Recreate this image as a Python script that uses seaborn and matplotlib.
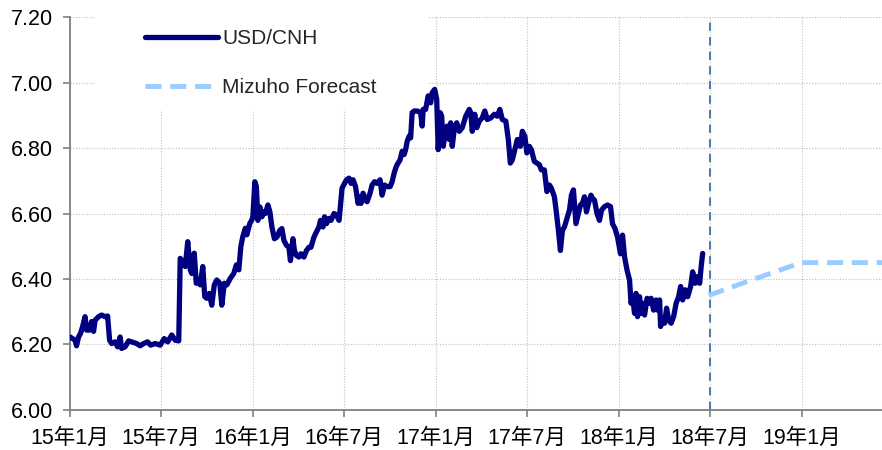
import pandas as pd
import matplotlib
matplotlib.use("Agg")
import matplotlib.pyplot as plt
import seaborn as sns
from matplotlib.patches import Rectangle

# ==========================================
# Data
# ==========================================

usdcnh_2015 = [
    ("2015-01-01", 6.223), ("2015-01-11", 6.213), ("2015-01-14", 6.196), ("2015-01-18", 6.223),
    ("2015-01-22", 6.234), ("2015-01-26", 6.254), ("2015-01-31", 6.285), ("2015-02-03", 6.244),
    ("2015-02-09", 6.244), ("2015-02-13", 6.270), ("2015-02-17", 6.240), ("2015-02-20", 6.274),
    ("2015-02-27", 6.285), ("2015-03-05", 6.290), ("2015-03-12", 6.285), ("2015-03-17", 6.287),
    ("2015-03-21", 6.213), ("2015-03-25", 6.203), ("2015-04-01", 6.208), ("2015-04-06", 6.193),
    ("2015-04-11", 6.223), ("2015-04-14", 6.188), ("2015-04-21", 6.193), ("2015-04-28", 6.211),
    ("2015-05-04", 6.208), ("2015-05-14", 6.203), ("2015-05-21", 6.196), ("2015-05-28", 6.203),
    ("2015-06-05", 6.208), ("2015-06-11", 6.198), ("2015-06-20", 6.203), ("2015-06-30", 6.198),
    ("2015-07-08", 6.218), ("2015-07-15", 6.208), ("2015-07-23", 6.229), ("2015-07-30", 6.213),
    ("2015-08-06", 6.211), ("2015-08-09", 6.463), ("2015-08-14", 6.453), ("2015-08-19", 6.438),
    ("2015-08-24", 6.514), ("2015-08-29", 6.428), ("2015-09-01", 6.417), ("2015-09-06", 6.479),
    ("2015-09-10", 6.387), ("2015-09-15", 6.397), ("2015-09-18", 6.382), ("2015-09-23", 6.438),
    ("2015-09-27", 6.346), ("2015-10-01", 6.341), ("2015-10-06", 6.356), ("2015-10-11", 6.320),
    ("2015-10-16", 6.382), ("2015-10-21", 6.397), ("2015-10-27", 6.387), ("2015-10-31", 6.320),
    ("2015-11-05", 6.387), ("2015-11-10", 6.382), ("2015-11-17", 6.402), ("2015-11-24", 6.417),
    ("2015-11-29", 6.443), ("2015-12-04", 6.428), ("2015-12-08", 6.499), ("2015-12-12", 6.530),
    ("2015-12-17", 6.555), ("2015-12-20", 6.535), ("2015-12-26", 6.570), ("2015-12-30", 6.580),
]

usdcnh_2016 = [
    ("2016-01-01", 6.590), ("2016-01-05", 6.697), ("2016-01-08", 6.682), ("2016-01-11", 6.579),
    ("2016-01-15", 6.620), ("2016-01-19", 6.590), ("2016-01-23", 6.605), ("2016-01-26", 6.600),
    ("2016-01-31", 6.626), ("2016-02-04", 6.605), ("2016-02-08", 6.559), ("2016-02-13", 6.523),
    ("2016-02-18", 6.528), ("2016-02-24", 6.549), ("2016-02-28", 6.554), ("2016-03-03", 6.518),
    ("2016-03-08", 6.503), ("2016-03-13", 6.497), ("2016-03-16", 6.456), ("2016-03-21", 6.523),
    ("2016-03-24", 6.487), ("2016-03-28", 6.472), ("2016-04-02", 6.467), ("2016-04-06", 6.477),
    ("2016-04-12", 6.467), ("2016-04-17", 6.487), ("2016-04-22", 6.497), ("2016-04-26", 6.497),
    ("2016-05-02", 6.528), ("2016-05-07", 6.544), ("2016-05-12", 6.559), ("2016-05-15", 6.579),
    ("2016-05-20", 6.559), ("2016-05-23", 6.590), ("2016-05-27", 6.569), ("2016-06-01", 6.585),
    ("2016-06-05", 6.579), ("2016-06-11", 6.600), ("2016-06-16", 6.595), ("2016-06-21", 6.579),
    ("2016-06-24", 6.626), ("2016-06-27", 6.677), ("2016-07-02", 6.692), ("2016-07-06", 6.703),
    ("2016-07-11", 6.708), ("2016-07-15", 6.692), ("2016-07-19", 6.703), ("2016-07-24", 6.682),
    ("2016-07-29", 6.631), ("2016-08-02", 6.651), ("2016-08-04", 6.631), ("2016-08-08", 6.662),
    ("2016-08-13", 6.641), ("2016-08-16", 6.636), ("2016-08-22", 6.662), ("2016-08-26", 6.687),
    ("2016-08-31", 6.697), ("2016-09-05", 6.692), ("2016-09-11", 6.703), ("2016-09-15", 6.656),
    ("2016-09-20", 6.687), ("2016-09-25", 6.682), ("2016-10-01", 6.682), ("2016-10-05", 6.697),
    ("2016-10-09", 6.723), ("2016-10-12", 6.738), ("2016-10-15", 6.749), ("2016-10-21", 6.764),
    ("2016-10-25", 6.790), ("2016-10-29", 6.780), ("2016-11-01", 6.795), ("2016-11-04", 6.820),
    ("2016-11-08", 6.836), ("2016-11-11", 6.831), ("2016-11-14", 6.908), ("2016-11-18", 6.913),
    ("2016-11-24", 6.913), ("2016-12-01", 6.908), ("2016-12-04", 6.867), ("2016-12-06", 6.918),
    ("2016-12-11", 6.918), ("2016-12-16", 6.959), ("2016-12-21", 6.938), ("2016-12-24", 6.969),
    ("2016-12-29", 6.979),
]

usdcnh_2017 = [
    ("2017-01-02", 6.949), ("2017-01-05", 6.795), ("2017-01-09", 6.908), ("2017-01-12", 6.897),
    ("2017-01-15", 6.805), ("2017-01-20", 6.856), ("2017-01-23", 6.867), ("2017-01-27", 6.826),
    ("2017-01-30", 6.877), ("2017-02-02", 6.805), ("2017-02-06", 6.856), ("2017-02-11", 6.877),
    ("2017-02-16", 6.851), ("2017-02-22", 6.862), ("2017-03-01", 6.897), ("2017-03-08", 6.918),
    ("2017-03-11", 6.908), ("2017-03-14", 6.851), ("2017-03-19", 6.903), ("2017-03-23", 6.862),
    ("2017-03-28", 6.882), ("2017-04-03", 6.892), ("2017-04-08", 6.913), ("2017-04-13", 6.887),
    ("2017-04-20", 6.892), ("2017-04-27", 6.903), ("2017-05-03", 6.897), ("2017-05-08", 6.918),
    ("2017-05-13", 6.887), ("2017-05-20", 6.882), ("2017-05-25", 6.826), ("2017-05-29", 6.754),
    ("2017-06-02", 6.764), ("2017-06-07", 6.795), ("2017-06-12", 6.826), ("2017-06-18", 6.805),
    ("2017-06-22", 6.851), ("2017-06-27", 6.836), ("2017-07-01", 6.785), ("2017-07-06", 6.805),
    ("2017-07-10", 6.795), ("2017-07-16", 6.759), ("2017-07-21", 6.754), ("2017-07-26", 6.749),
    ("2017-07-30", 6.733), ("2017-08-05", 6.733), ("2017-08-10", 6.667), ("2017-08-15", 6.687),
    ("2017-08-19", 6.677), ("2017-08-25", 6.651), ("2017-08-28", 6.615), ("2017-09-02", 6.549),
    ("2017-09-06", 6.487), ("2017-09-10", 6.549), ("2017-09-14", 6.559), ("2017-09-19", 6.585),
    ("2017-09-24", 6.610), ("2017-09-28", 6.656), ("2017-10-02", 6.672), ("2017-10-07", 6.569),
    ("2017-10-12", 6.600), ("2017-10-16", 6.626), ("2017-10-20", 6.631), ("2017-10-24", 6.651),
    ("2017-10-28", 6.605), ("2017-11-01", 6.631), ("2017-11-06", 6.656), ("2017-11-09", 6.646),
    ("2017-11-13", 6.641), ("2017-11-18", 6.600), ("2017-11-23", 6.579), ("2017-11-27", 6.610),
    ("2017-12-03", 6.621), ("2017-12-09", 6.626), ("2017-12-15", 6.621), ("2017-12-19", 6.569),
    ("2017-12-24", 6.554), ("2017-12-29", 6.528),
]

usdcnh_2018 = [
    ("2018-01-04", 6.477), ("2018-01-08", 6.534), ("2018-01-12", 6.468), ("2018-01-17", 6.427),
    ("2018-01-22", 6.397), ("2018-01-25", 6.326), ("2018-01-28", 6.346), ("2018-02-01", 6.295),
    ("2018-02-04", 6.356), ("2018-02-07", 6.285), ("2018-02-11", 6.346), ("2018-02-14", 6.295),
    ("2018-02-17", 6.326), ("2018-02-21", 6.290), ("2018-02-26", 6.341), ("2018-03-03", 6.326),
    ("2018-03-06", 6.341), ("2018-03-11", 6.305), ("2018-03-16", 6.336), ("2018-03-19", 6.305),
    ("2018-03-23", 6.336), ("2018-03-25", 6.255), ("2018-03-28", 6.275), ("2018-04-02", 6.265),
    ("2018-04-06", 6.311), ("2018-04-10", 6.275), ("2018-04-15", 6.265), ("2018-04-20", 6.285),
    ("2018-04-25", 6.326), ("2018-04-30", 6.346), ("2018-05-04", 6.377), ("2018-05-08", 6.336),
    ("2018-05-13", 6.367), ("2018-05-18", 6.346), ("2018-05-24", 6.377), ("2018-05-28", 6.422),
    ("2018-06-02", 6.387), ("2018-06-06", 6.407), ("2018-06-11", 6.387), ("2018-06-14", 6.438),
    ("2018-06-17", 6.478),
]

forecast_dates = ["2018-06-29", "2018-09-28", "2018-12-31", "2019-03-29", "2019-06-28"]
forecast_values = [6.35, 6.40, 6.45, 6.45, 6.45]

tick_dates = ["2015-01-01", "2015-07-01", "2016-01-01", "2016-07-01", "2017-01-01",
              "2017-07-01", "2018-01-01", "2018-07-01", "2019-01-01"]
tick_labels = ["15年1月", "15年7月", "16年1月", "16年7月", "17年1月",
               "17年7月", "18年1月", "18年7月", "19年1月"]

y_ticks = [6.00, 6.20, 6.40, 6.60, 6.80, 7.00, 7.20]

forecast_start = "2018-07-01"

# ==========================================
# Build data frames
# ==========================================

spot = pd.DataFrame(usdcnh_2015 + usdcnh_2016 + usdcnh_2017 + usdcnh_2018,
                    columns=["date", "value"])
spot["date"] = pd.to_datetime(spot["date"])

forecast = pd.DataFrame({"date": pd.to_datetime(forecast_dates), "value": forecast_values})

# ==========================================
# Plot
# ==========================================

sns.set_theme(style="whitegrid")
plt.rcParams["font.family"] = ["Liberation Sans", "Noto Sans CJK JP", "DejaVu Sans"]

fig = plt.figure(figsize=(8.82, 4.5), dpi=100)
ax = fig.add_axes([0.0794, 0.0889, 0.9206, 0.8733])

sns.lineplot(data=spot, x="date", y="value", ax=ax, color="#000080",
             linewidth=3.8, label="USD/CNH", zorder=3)
sns.lineplot(data=forecast, x="date", y="value", ax=ax, color="#99CCFF",
             linewidth=3.5, dashes=False, label="Mizuho Forecast", zorder=3)
ax.lines[1].set_dashes([3.3, 1.8])

ax.axvline(pd.Timestamp(forecast_start), color="#4A7EBB", linewidth=1.5,
           dashes=(4, 3), zorder=2)

ax.set_xlim(pd.Timestamp("2015-01-01"), pd.Timestamp("2019-06-10"))
ax.set_ylim(6.0, 7.2)
ax.set_yticks(y_ticks)
ax.set_yticklabels([f"{v:.2f}" for v in y_ticks])
ax.set_xticks(pd.to_datetime(tick_dates))
ax.set_xticklabels(tick_labels)
ax.set_xlabel("")
ax.set_ylabel("")

ax.grid(True, color="#BFBFBF", linestyle=(0, (1, 1.5)), linewidth=0.8)
for side in ["top", "right"]:
    ax.spines[side].set_visible(False)
for side in ["left", "bottom"]:
    ax.spines[side].set_color("#808080")
    ax.spines[side].set_linewidth(1.3)

ax.tick_params(axis="both", labelsize=15.5, colors="black")
ax.tick_params(axis="y", length=5, width=1.2, color="#808080", pad=7, left=True)
ax.tick_params(axis="x", length=5, width=1.2, color="#808080", pad=8, bottom=True)

# white area behind the legend hides the grid there
ax.add_patch(Rectangle((0.031, 0.763), 0.41, 0.26, transform=ax.transAxes,
                       facecolor="white", edgecolor="none", zorder=1, clip_on=False))

leg = ax.legend(loc="upper left", bbox_to_anchor=(0.0926, 0.97), frameon=False,
                fontsize=15, handlelength=3.5, handletextpad=0.2, labelspacing=1.45,
                borderpad=0, borderaxespad=0)
leg.get_lines()[0].set_linewidth(3.8)
leg.get_lines()[1].set_dashes([3.3, 1.8])

fig.savefig("out.png", dpi=100)
